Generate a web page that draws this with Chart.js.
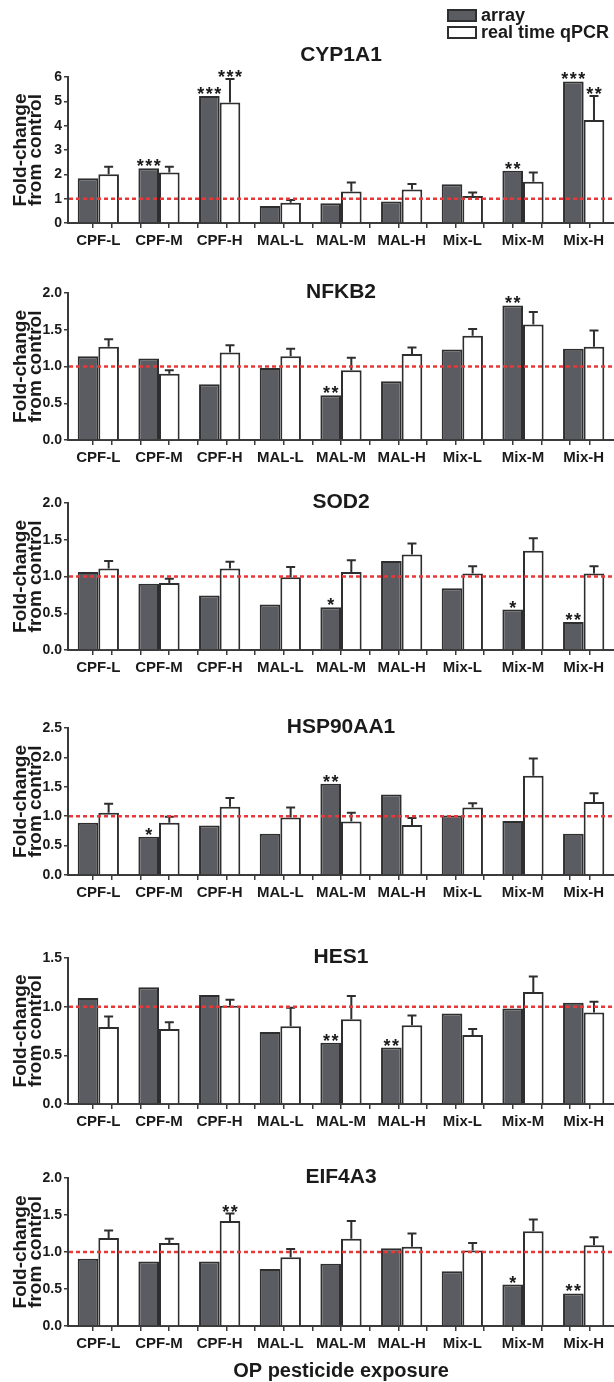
<!DOCTYPE html>
<html><head><meta charset="utf-8">
<script src="https://cdn.jsdelivr.net/npm/chart.js@4.4.1/dist/chart.umd.min.js"></script>
<style>
html,body{margin:0;padding:0;background:#fff;}
body{width:614px;height:1382px;position:relative;overflow:hidden;}
canvas{position:absolute;left:0;}
</style></head><body>
<canvas id="c0"></canvas><canvas id="c1"></canvas><canvas id="c2"></canvas>
<canvas id="c3"></canvas><canvas id="c4"></canvas><canvas id="c5"></canvas>
<script>
// ---------------- data ----------------
const categories = ['CPF-L','CPF-M','CPF-H','MAL-L','MAL-M','MAL-H','Mix-L','Mix-M','Mix-H'];
const seriesLabels = ['array','real time qPCR'];
const genes = ['CYP1A1','NFKB2','SOD2','HSP90AA1','HES1','EIF4A3'];
const yAxisTitle = ['Fold-change','from control'];
const xAxisTitle = 'OP pesticide exposure';
const yMaxes = [6, 2, 2, 2.5, 1.5, 2];
const yStepSizes = [1, 0.5, 0.5, 0.5, 0.5, 0.5];
const controlLevel = 1;

const cyp1a1Array = [1.84, 2.25, 5.22, 0.70, 0.81, 0.88, 1.59, 2.15, 5.82];
const cyp1a1Qpcr  = [2.00, 2.08, 4.95, 0.83, 1.29, 1.38, 1.11, 1.70, 4.23];
const cyp1a1Err   = [0.31, 0.23, 0.97, 0.12, 0.37, 0.22, 0.14, 0.38, 0.99];
const cyp1a1ArrayStars = ['', '***', '***', '', '', '', '', '**', '***'];
const cyp1a1QpcrStars  = ['', '', '***', '', '', '', '', '', '**'];

const nfkb2Array = [1.14, 1.11, 0.76, 0.98, 0.61, 0.80, 1.23, 1.83, 1.24];
const nfkb2Qpcr  = [1.27, 0.90, 1.19, 1.14, 0.95, 1.17, 1.42, 1.57, 1.27];
const nfkb2Err   = [0.10, 0.05, 0.10, 0.10, 0.17, 0.09, 0.09, 0.17, 0.22];
const nfkb2ArrayStars = ['', '', '', '', '**', '', '', '**', ''];
const nfkb2QpcrStars  = ['', '', '', '', '', '', '', '', ''];

const sod2Array = [1.06, 0.90, 0.74, 0.62, 0.58, 1.21, 0.84, 0.55, 0.38];
const sod2Qpcr  = [1.11, 0.91, 1.11, 0.99, 1.06, 1.30, 1.04, 1.35, 1.04];
const sod2Err   = [0.10, 0.06, 0.09, 0.14, 0.16, 0.15, 0.10, 0.17, 0.10];
const sod2ArrayStars = ['', '', '', '', '*', '', '', '*', '**'];
const sod2QpcrStars  = ['', '', '', '', '', '', '', '', ''];

const hsp90aa1Array = [0.89, 0.65, 0.84, 0.70, 1.55, 1.37, 1.01, 0.92, 0.70];
const hsp90aa1Qpcr  = [1.06, 0.89, 1.16, 0.98, 0.91, 0.85, 1.15, 1.69, 1.24];
const hsp90aa1Err   = [0.15, 0.10, 0.15, 0.17, 0.15, 0.12, 0.07, 0.29, 0.15];
const hsp90aa1ArrayStars = ['', '*', '', '', '**', '', '', '', ''];
const hsp90aa1QpcrStars  = ['', '', '', '', '', '', '', '', ''];

const hes1Array = [1.09, 1.20, 1.12, 0.74, 0.63, 0.58, 0.93, 0.98, 1.04];
const hes1Qpcr  = [0.79, 0.77, 1.01, 0.80, 0.87, 0.81, 0.71, 1.15, 0.94];
const hes1Err   = [0.11, 0.07, 0.06, 0.19, 0.24, 0.10, 0.06, 0.16, 0.11];
const hes1ArrayStars = ['', '', '', '', '**', '**', '', '', ''];
const hes1QpcrStars  = ['', '', '', '', '', '', '', '', ''];

const eif4a3Array = [0.91, 0.87, 0.87, 0.77, 0.84, 1.05, 0.74, 0.56, 0.44];
const eif4a3Qpcr  = [1.19, 1.12, 1.42, 0.93, 1.18, 1.07, 1.02, 1.28, 1.09];
const eif4a3Err   = [0.10, 0.06, 0.10, 0.11, 0.24, 0.18, 0.10, 0.16, 0.11];
const eif4a3ArrayStars = ['', '', '', '', '', '', '', '*', '**'];
const eif4a3QpcrStars  = ['', '', '**', '', '', '', '', '', ''];

const arrayValues = [cyp1a1Array, nfkb2Array, sod2Array, hsp90aa1Array, hes1Array, eif4a3Array];
const qpcrValues  = [cyp1a1Qpcr, nfkb2Qpcr, sod2Qpcr, hsp90aa1Qpcr, hes1Qpcr, eif4a3Qpcr];
const qpcrErrors  = [cyp1a1Err, nfkb2Err, sod2Err, hsp90aa1Err, hes1Err, eif4a3Err];
const arrayStars  = [cyp1a1ArrayStars, nfkb2ArrayStars, sod2ArrayStars, hsp90aa1ArrayStars, hes1ArrayStars, eif4a3ArrayStars];
const qpcrStars   = [cyp1a1QpcrStars, nfkb2QpcrStars, sod2QpcrStars, hsp90aa1QpcrStars, hes1QpcrStars, eif4a3QpcrStars];

// ---------------- style / layout ----------------
const FONT = "'Liberation Sans', Arial, Helvetica, sans-serif";
const TEXT = '#1a1a1a';
const EDGE = '#2e2e2e';
const AXIS = '#3a3a3a';
const ARRAY_FILL = '#5a5c61';
const QPCR_FILL = '#ffffff';
const RED = '#e8393a';
Chart.defaults.font.family = FONT;

// areaTop / areaBottom = plot area in page pixels
const panels = [
  {canvasTop: 0,    areaTop: 77,   areaBottom: 223,  titleCenter: 55,   axisH: 34},
  {canvasTop: 263,  areaTop: 293,  areaBottom: 440,  titleCenter: 292,  axisH: 34},
  {canvasTop: 473,  areaTop: 503,  areaBottom: 650,  titleCenter: 502,  axisH: 34},
  {canvasTop: 698,  areaTop: 728,  areaBottom: 875,  titleCenter: 727,  axisH: 34},
  {canvasTop: 928,  areaTop: 958,  areaBottom: 1104, titleCenter: 957,  axisH: 34},
  {canvasTop: 1147, areaTop: 1178, areaBottom: 1326, titleCenter: 1177, axisH: 56}
];
const TITLE_SIZE = 21, TITLE_LH = 1.2;

// ---------------- plugins ----------------
const boxLegend = {
  id: 'boxLegend',
  afterDraw(chart, args, opts) {
    if (!opts.show) return;
    const ctx = chart.ctx;
    ctx.save();
    chart.data.datasets.forEach((ds, i) => {
      const y = opts.y + i * opts.rowGap;
      ctx.fillStyle = ds.backgroundColor;
      ctx.strokeStyle = ds.borderColor;
      ctx.lineWidth = 2;
      ctx.fillRect(opts.x, y, opts.boxW, opts.boxH);
      ctx.strokeRect(opts.x + 1, y + 1, opts.boxW - 2, opts.boxH - 2);
      ctx.fillStyle = TEXT;
      ctx.font = 'bold 18px ' + FONT;
      ctx.textBaseline = 'middle';
      ctx.textAlign = 'left';
      ctx.fillText(ds.label, opts.x + opts.boxW + 4, y + opts.boxH / 2 + 1);
    });
    ctx.restore();
  }
};

const marks = {
  id: 'marks',
  afterDatasetsDraw(chart) {
    const ctx = chart.ctx;
    const ys = chart.scales.y;
    ctx.save();
    chart.data.datasets.forEach((ds, di) => {
      const meta = chart.getDatasetMeta(di);
      meta.data.forEach((bar, i) => {
        let top = bar.y;
        if (ds.errors) {
          const yTop = ys.getPixelForValue(ds.data[i] + ds.errors[i]);
          ctx.strokeStyle = EDGE;
          ctx.lineWidth = 2;
          ctx.beginPath();
          ctx.moveTo(bar.x, bar.y);
          ctx.lineTo(bar.x, yTop);
          ctx.moveTo(bar.x - 4.5, yTop);
          ctx.lineTo(bar.x + 4.5, yTop);
          ctx.stroke();
          top = yTop;
        }
        const s = ds.stars ? ds.stars[i] : '';
        if (s) {
          ctx.fillStyle = TEXT;
          ctx.font = 'bold 18px ' + FONT;
          ctx.textAlign = 'center';
          ctx.textBaseline = 'alphabetic';
          const pitch = 8.5;
          for (let k = 0; k < s.length; k++) {
            ctx.fillText(s[k], bar.x + (k - (s.length - 1) / 2) * pitch, top + 4);
          }
        }
      });
    });
    // control reference line
    const y1 = ys.getPixelForValue(controlLevel);
    ctx.strokeStyle = RED;
    ctx.lineWidth = 2.5;
    ctx.setLineDash([4, 3]);
    ctx.beginPath();
    ctx.moveTo(chart.chartArea.left + 1, y1);
    ctx.lineTo(chart.chartArea.right, y1);
    ctx.stroke();
    ctx.restore();
  }
};

// ---------------- charts ----------------
panels.forEach((p, pi) => {
  const cv = document.getElementById('c' + pi);
  const areaRelTop = p.areaTop - p.canvasTop;
  const areaH = p.areaBottom - p.areaTop;
  const h = areaRelTop + areaH + p.axisH;
  cv.width = 614; cv.height = h;
  cv.style.top = p.canvasTop + 'px';
  cv.style.width = '614px'; cv.style.height = h + 'px';
  const lh = TITLE_SIZE * TITLE_LH;
  const tPadTop = (p.titleCenter - p.canvasTop) - lh / 2;
  const tPadBottom = areaRelTop - lh - tPadTop;
  const isLast = pi === panels.length - 1;

  new Chart(cv, {
    type: 'bar',
    data: {
      labels: categories,
      datasets: [
        {label: seriesLabels[0], data: arrayValues[pi], backgroundColor: ARRAY_FILL, borderColor: EDGE,
         borderWidth: 2, categoryPercentage: 0.68, barPercentage: 1.0, stars: arrayStars[pi], xAxisID: 'x', yAxisID: 'y'},
        {label: seriesLabels[1], data: qpcrValues[pi], backgroundColor: QPCR_FILL, borderColor: EDGE,
         borderWidth: 2, categoryPercentage: 0.68, barPercentage: 1.0, errors: qpcrErrors[pi], stars: qpcrStars[pi], xAxisID: 'x', yAxisID: 'y'}
      ]
    },
    options: {
      responsive: false, animation: false, devicePixelRatio: 1,
      layout: {padding: 0},
      plugins: {
        legend: {display: false},
        tooltip: {enabled: false},
        title: {display: true, text: genes[pi], fullSize: false, color: TEXT,
                font: {size: TITLE_SIZE, weight: 'bold', lineHeight: TITLE_LH},
                padding: {top: tPadTop, bottom: tPadBottom}},
        boxLegend: {show: pi === 0, x: 447, y: 9, boxW: 30, boxH: 13, rowGap: 17}
      },
      scales: {
        x: {
          type: 'category', offset: true,
          grid: {display: false, drawTicks: false},
          border: {display: true, color: AXIS, width: 2},
          ticks: {color: TEXT, font: {size: 15, weight: 'bold'}, padding: 9, maxRotation: 0, autoSkip: false},
          title: {display: isLast, text: xAxisTitle, color: TEXT, font: {size: 20, weight: 'bold', lineHeight: 1.0}, padding: {top: 0, bottom: 1}},
          afterFit(s) { s.height = p.axisH; }
        },
        xt: {
          type: 'linear', axis: 'x', position: {y: 0}, min: -0.5, max: 8.5,
          afterBuildTicks(s) {
            const t = [];
            categories.forEach((c, i) => { t.push({value: i - 0.17}); t.push({value: i + 0.17}); });
            s.ticks = t;
          },
          grid: {drawOnChartArea: false, drawTicks: true, tickLength: 5, color: AXIS, lineWidth: 1.5},
          border: {display: false},
          ticks: {display: false}
        },
        y: {
          min: 0, max: yMaxes[pi],
          ticks: {stepSize: yStepSizes[pi], color: TEXT, font: {size: 14, weight: 'bold'}, padding: 2,
                  callback: (v) => pi === 0 ? String(v) : v.toFixed(1)},
          grid: {drawOnChartArea: false, drawTicks: true, tickLength: 4, color: AXIS, lineWidth: 1.5},
          border: {color: AXIS, width: 2},
          title: {display: true, text: yAxisTitle, color: TEXT, font: {size: 19, weight: 'bold', lineHeight: 0.79}, padding: {top: 13.5, bottom: 0}},
          afterFit(s) { s.width = 68; }
        }
      }
    },
    plugins: [marks, boxLegend]
  });
});
</script>
</body></html>
